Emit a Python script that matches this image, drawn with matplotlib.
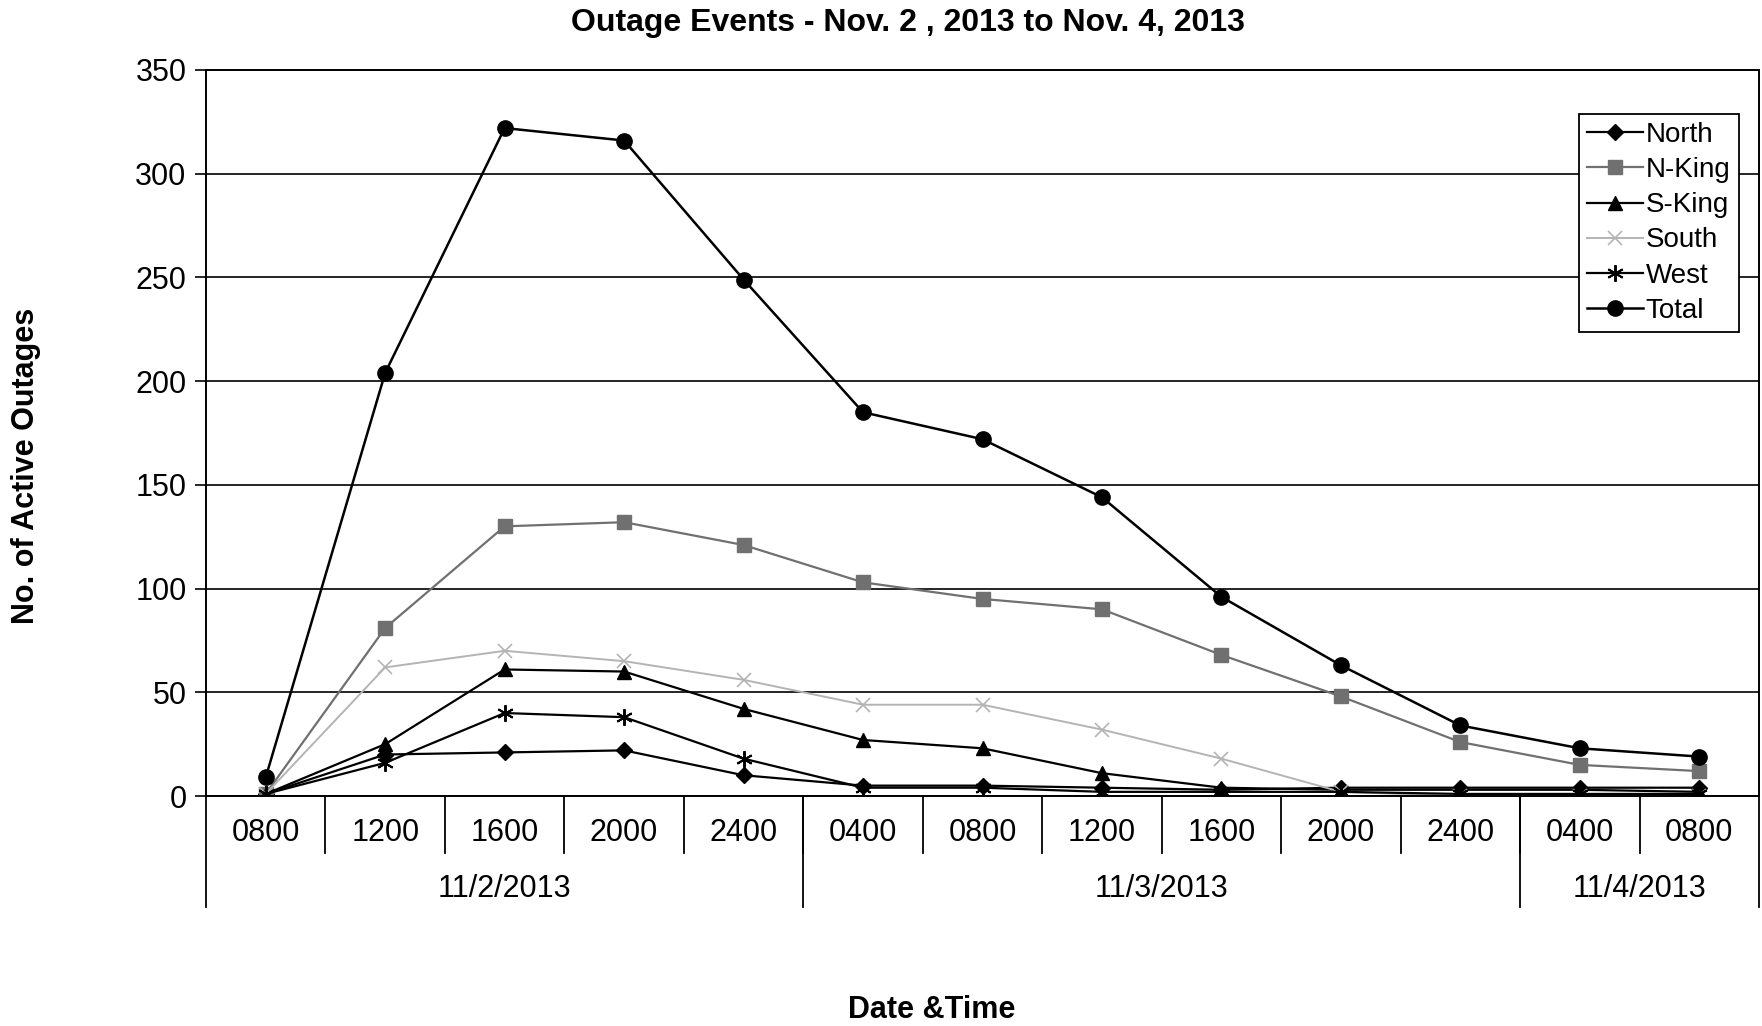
import matplotlib.pyplot as plt
from matplotlib.transforms import blended_transform_factory

plt.rcParams['font.family'] = ['Liberation Sans', 'DejaVu Sans']

times = ["0800", "1200", "1600", "2000", "2400", "0400", "0800",
         "1200", "1600", "2000", "2400", "0400", "0800"]
dates = ["11/2/2013", "11/3/2013", "11/4/2013"]
date_counts = [5, 6, 2]   # number of time slots under each date

north = [1, 20, 21, 22, 10, 5, 5, 4, 3, 4, 4, 4, 4]
n_king = [1, 81, 130, 132, 121, 103, 95, 90, 68, 48, 26, 15, 12]
s_king = [1, 25, 61, 60, 42, 27, 23, 11, 4, 3, 3, 3, 2]
south = [1, 62, 70, 65, 56, 44, 44, 32, 18, 2, 0, 0, 0]
west = [1, 16, 40, 38, 18, 4, 4, 2, 2, 2, 1, 1, 1]
total = [9, 204, 322, 316, 249, 185, 172, 144, 96, 63, 34, 23, 19]

fig = plt.figure(figsize=(17.62, 10.26), dpi=100)
ax = fig.add_axes([206 / 1762, 230 / 1026, 1553 / 1762, 726 / 1026])

x = list(range(len(times)))
ax.plot(x, north, color='black', lw=1.6, marker='D', ms=8, label='North')
ax.plot(x, n_king, color='#707070', lw=1.6, marker='s', ms=10, label='N-King')
ax.plot(x, s_king, color='black', lw=1.6, marker='^', ms=10, label='S-King')
ax.plot(x, south, color='#b4b4b4', lw=1.4, marker='x', ms=10, mew=1.2, label='South')
ax.plot(x, west, color='black', lw=1.6, marker=(6, 2, 0), ms=12, mew=1.4, label='West')
ax.plot(x, total, color='black', lw=1.8, marker='o', ms=11, label='Total')

ax.set_xlim(-0.5, len(times) - 0.5)
ax.set_ylim(0, 350)
ax.set_yticks(range(0, 351, 50))
ax.tick_params(axis='y', labelsize=22, length=8, width=1.2, direction='out', pad=6)
ax.set_xticks([])
ax.yaxis.grid(True, color='black', lw=1.2)
ax.set_axisbelow(True)
for s in ax.spines.values():
    s.set_linewidth(1.4)

# multi-level category axis
tr = blended_transform_factory(ax.transData, ax.transAxes)
for i, t in enumerate(times):
    ax.text(i, -0.051, t, transform=tr, ha='center', va='center', fontsize=22)
for i in range(1, len(times)):
    ax.plot([i - 0.5, i - 0.5], [0, -0.078], transform=tr, color='black',
            lw=1.3, clip_on=False)
start = -0.5
ax.plot([start, start], [0, -0.153], transform=tr, color='black', lw=1.3, clip_on=False)
for d, n in zip(dates, date_counts):
    end = start + n
    ax.text((start + end) / 2, -0.128, d, transform=tr, ha='center', va='center', fontsize=22)
    ax.plot([end, end], [0, -0.153], transform=tr, color='black', lw=1.3, clip_on=False)
    start = end

leg = ax.legend(loc='upper right', bbox_to_anchor=(0.987, 0.94), fontsize=20,
                frameon=True, fancybox=False, edgecolor='black', framealpha=1,
                handlelength=2.0, handletextpad=0.1, labelspacing=0.33,
                borderpad=0.3, borderaxespad=0)
leg.get_frame().set_linewidth(1.3)

fig.text(908 / 1762, 1 - 23 / 1026, "Outage Events - Nov. 2 , 2013 to Nov. 4, 2013",
         ha='center', va='center', fontsize=23, fontweight='bold')
fig.text(26 / 1762, 1 - 466 / 1026, "No. of Active Outages", rotation=90,
         ha='center', va='center', fontsize=22, fontweight='bold')
fig.text(932 / 1762, 1 - 1010 / 1026, "Date &Time", ha='center', va='center',
         fontsize=22, fontweight='bold')

fig.savefig('out.png', dpi=100)
